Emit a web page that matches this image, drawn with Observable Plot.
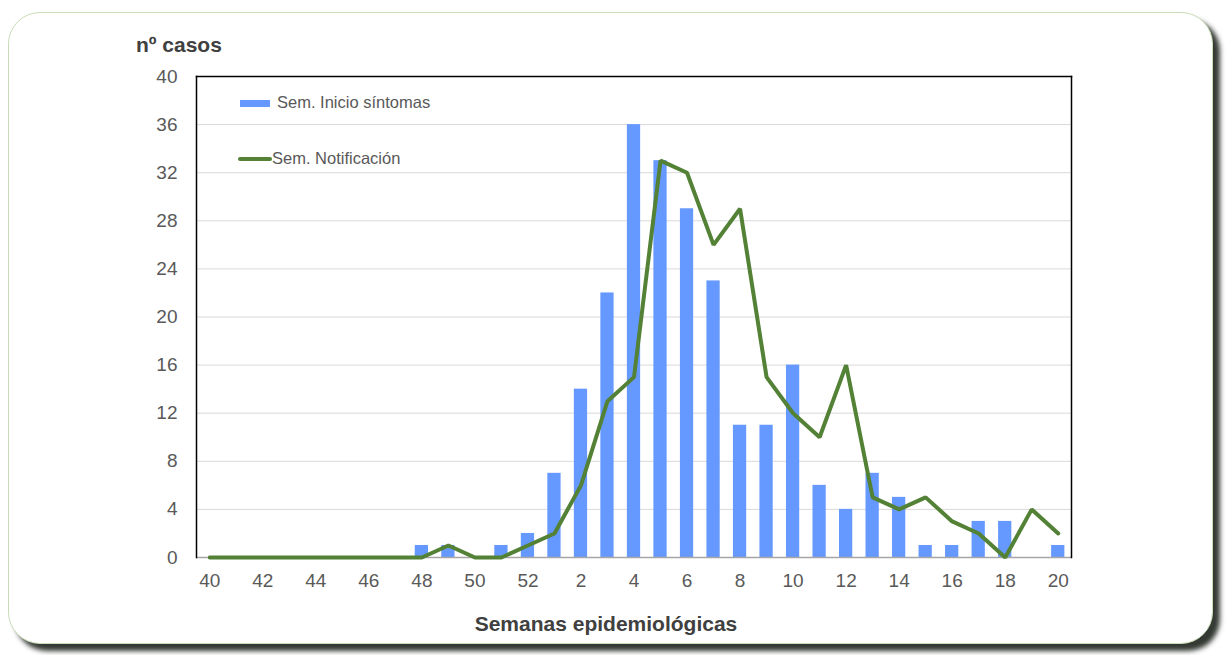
<!DOCTYPE html>
<html>
<head>
<meta charset="utf-8">
<script src="https://cdn.jsdelivr.net/npm/d3@7"></script>
<script src="https://cdn.jsdelivr.net/npm/@observablehq/plot@0.6"></script>
<style>
  html, body { margin: 0; padding: 0; background: #fff; }
  body { width: 1227px; height: 655px; position: relative; overflow: hidden; font-family: "Liberation Sans", Arial, sans-serif; }
  #frame { position: absolute; left: 8px; top: 12px; width: 1203px; height: 630px; border: 1px solid #c9dcb6; border-radius: 32px; box-shadow: 7px 7px 5px rgba(30,35,30,0.9); background: #fff; }
  #chart { position: absolute; left: 0; top: 0; }
  .lbl { position: absolute; color: #595959; white-space: nowrap; }
  #ytitle { left: 136px; top: 33px; font-size: 21px; font-weight: bold; color: #404040; }
  #xtitle { left: 0; width: 1212px; text-align: center; top: 612px; font-size: 21px; font-weight: bold; color: #404040; }
  .leg { font-size: 16.5px; }
  #sw1 { position: absolute; left: 240px; top: 100px; width: 30px; height: 7px; background: #6699ff; }
  #sw2 { position: absolute; left: 238px; top: 157px; width: 34px; height: 4px; border-radius: 2px; background: #538135; }
</style>
</head>
<body>
<div id="frame"></div>
<div id="chart"></div>
<div class="lbl" id="ytitle">nº casos</div>
<div class="lbl" id="xtitle">Semanas epidemiológicas</div>
<div id="sw1"></div><div class="lbl leg" style="left:277px;top:93px;">Sem. Inicio síntomas</div>
<div id="sw2"></div><div class="lbl leg" style="left:272px;top:149px;">Sem. Notificación</div>
<script>
const weeks = ["40","41","42","43","44","45","46","47","48","49","50","51","52",
  "1","2","3","4","5","6","7","8","9","10","11","12","13","14","15","16","17","18","19","20"];
const inicioSintomas = [0,0,0,0,0,0,0,0,1,1,0,1,2,
  7,14,22,36,33,29,23,11,11,16,6,4,7,5,1,1,3,3,0,1];
const notificacion = [0,0,0,0,0,0,0,0,0,1,0,0,1,
  2,6,13,15,33,32,26,29,15,12,10,16,5,4,5,3,2,0,4,2];
const yTicks = [0,4,8,12,16,20,24,28,32,36,40];
const xTickLabels = weeks.filter((w, i) => i % 2 === 0);

const bars = weeks.map((w, i) => ({week: w, value: inicioSintomas[i]})).filter(d => d.value > 0);
const line = weeks.map((w, i) => ({week: w, value: notificacion[i]}));

const plot = Plot.plot({
  width: 1227,
  height: 655,
  marginLeft: 196,
  marginRight: 156,
  marginTop: 76,
  marginBottom: 98,
  style: {fontFamily: "'Liberation Sans', Arial, sans-serif", fontSize: "19px", color: "#595959", background: "transparent"},
  x: {type: "band", domain: weeks, paddingInner: 0.5, paddingOuter: 0.25, round: false, label: null},
  y: {domain: [0, 40], label: null},
  marks: [
    Plot.gridY(yTicks.filter(t => t > 0 && t < 40), {stroke: "#d9d9d9", strokeOpacity: 1, strokeWidth: 1}),
    Plot.rectY(bars, {x: "week", y: "value", fill: "#6699ff"}),
    Plot.ruleY([0], {stroke: "#a6a6a6", strokeWidth: 1.5}),
    Plot.line(line, {x: "week", y: "value", stroke: "#538135", strokeWidth: 4, strokeLinejoin: "miter", curve: "linear"}),
    Plot.frame({stroke: "#000", strokeWidth: 1.5, anchor: "left"}),
    Plot.frame({stroke: "#000", strokeWidth: 1.5, anchor: "top"}),
    Plot.frame({stroke: "#000", strokeWidth: 1.5, anchor: "right"}),
    Plot.axisY({ticks: yTicks, tickSize: 0, tickPadding: 19, label: null, fill: "#595959"}),
    Plot.axisX({ticks: xTickLabels, tickSize: 0, tickPadding: 16, label: null, fill: "#595959"})
  ]
});
document.getElementById("chart").appendChild(plot);
</script>
</body>
</html>
